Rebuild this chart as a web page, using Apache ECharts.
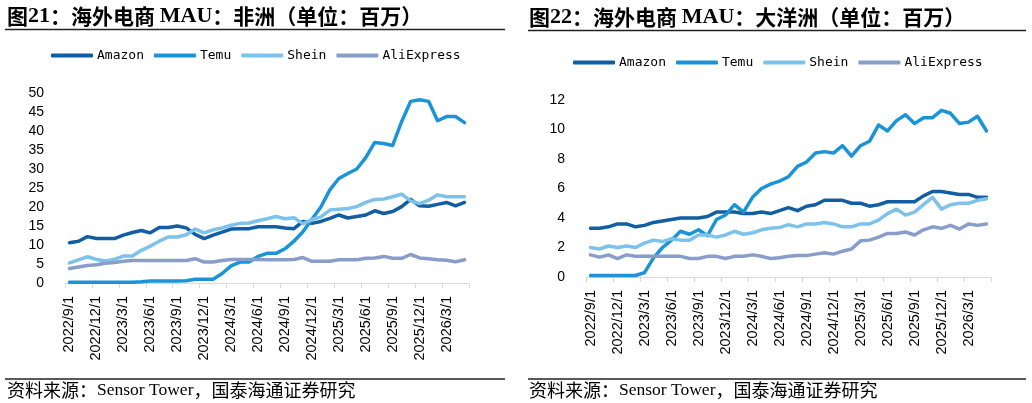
<!DOCTYPE html>
<html>
<head>
<meta charset="utf-8">
<script src="https://cdn.jsdelivr.net/npm/echarts@6/dist/echarts.min.js"></script>
<style>
html,body{margin:0;padding:0;background:#fff;}
#main{width:1032px;height:403px;}
</style>
</head>
<body>
<div id="main"></div>
<script>
var categories = ["2022/9/1","2022/10/1","2022/11/1","2022/12/1","2023/1/1","2023/2/1","2023/3/1","2023/4/1","2023/5/1","2023/6/1","2023/7/1","2023/8/1","2023/9/1","2023/10/1","2023/11/1","2023/12/1","2024/1/1","2024/2/1","2024/3/1","2024/4/1","2024/5/1","2024/6/1","2024/7/1","2024/8/1","2024/9/1","2024/10/1","2024/11/1","2024/12/1","2025/1/1","2025/2/1","2025/3/1","2025/4/1","2025/5/1","2025/6/1","2025/7/1","2025/8/1","2025/9/1","2025/10/1","2025/11/1","2025/12/1","2026/1/1","2026/2/1","2026/3/1","2026/4/1","2026/5/1"];

var seriesNames = ["Amazon","Temu","Shein","AliExpress"];

// Africa (left panel)
var africaAmazon = [10.6,11.0,12.2,11.7,11.7,11.7,12.6,13.3,13.8,13.2,14.6,14.6,15.0,14.5,12.8,11.7,12.6,13.4,14.2,14.3,14.3,14.8,14.8,14.8,14.5,14.3,16.2,15.7,16.2,17.0,17.9,17.1,17.5,17.9,19.0,18.3,18.8,20.1,22.0,20.3,20.2,20.7,21.2,20.3,21.2];
var africaTemu = [0.2,0.2,0.2,0.2,0.2,0.2,0.2,0.2,0.3,0.5,0.5,0.5,0.5,0.6,1.0,1.0,1.0,2.5,4.5,5.5,5.5,7.0,7.8,7.8,9.0,11.0,13.5,16.8,20.0,24.5,27.5,28.8,30.0,33.0,37.0,36.7,36.2,42.5,47.8,48.2,47.8,42.7,43.8,43.8,42.2];
var africaShein = [5.3,6.1,6.9,6.2,5.8,6.2,7.1,7.1,8.6,9.7,11.0,12.1,12.1,12.7,14.2,13.2,14.0,14.5,15.2,15.7,15.8,16.4,16.9,17.5,16.9,17.2,15.6,16.7,17.4,19.2,19.4,19.6,20.1,21.2,22.0,22.1,22.7,23.4,21.6,20.9,21.8,23.2,22.7,22.7,22.7];
var africaAli = [3.8,4.2,4.6,4.8,5.2,5.4,5.7,5.9,5.9,5.9,5.9,5.9,5.9,5.9,6.4,5.5,5.5,5.9,6.2,6.2,6.2,6.2,6.1,6.1,6.1,6.2,6.7,5.7,5.7,5.7,6.1,6.1,6.1,6.5,6.6,7.0,6.5,6.5,7.5,6.6,6.4,6.1,6.0,5.6,6.1];

// Oceania (right panel)
var oceaniaAmazon = [3.3,3.3,3.4,3.6,3.6,3.4,3.5,3.7,3.8,3.9,4.0,4.0,4.0,4.1,4.4,4.4,4.4,4.3,4.3,4.4,4.3,4.5,4.7,4.5,4.8,4.9,5.2,5.2,5.2,5.0,5.0,4.8,4.9,5.1,5.1,5.1,5.1,5.5,5.8,5.8,5.7,5.6,5.6,5.4,5.4];
var oceaniaTemu = [0.1,0.1,0.1,0.1,0.1,0.1,0.3,1.3,2.0,2.5,3.1,2.9,3.2,2.8,3.9,4.2,4.9,4.4,5.4,6.0,6.3,6.5,6.8,7.5,7.8,8.4,8.5,8.4,8.9,8.2,8.9,9.2,10.3,9.9,10.6,11.0,10.4,10.8,10.8,11.3,11.1,10.4,10.5,10.9,9.9];
var oceaniaShein = [2.0,1.9,2.1,2.0,2.1,2.0,2.3,2.5,2.4,2.6,2.5,2.5,2.85,2.85,2.7,2.85,3.1,2.9,3.0,3.2,3.3,3.35,3.55,3.4,3.6,3.6,3.7,3.6,3.4,3.4,3.6,3.6,3.85,4.3,4.6,4.2,4.4,4.9,5.4,4.6,4.9,5.0,5.0,5.2,5.3];
var oceaniaAli = [1.5,1.35,1.5,1.25,1.5,1.4,1.4,1.4,1.4,1.4,1.4,1.25,1.25,1.4,1.4,1.25,1.4,1.4,1.5,1.4,1.25,1.3,1.4,1.45,1.45,1.55,1.65,1.55,1.75,1.9,2.45,2.5,2.7,2.95,2.95,3.05,2.85,3.2,3.4,3.3,3.5,3.25,3.6,3.5,3.6];

var leftTitle = ["图", "21", "：海外电商 ", "MAU", "：非洲（单位：百万）"];
var rightTitle = ["图", "22", "：海外电商 ", "MAU", "：大洋洲（单位：百万）"];
var sourceText = ["资料来源：", "Sensor Tower", "，国泰海通证券研究"];

var colors = ["#135ea3", "#1a94d6", "#7cc2ea", "#889dc9"];

var chart = echarts.init(document.getElementById('main'), null, {renderer: 'canvas'});

function xAxisCfg(gi) {
  return {
    type: 'category', gridIndex: gi, data: categories, boundaryGap: true,
    axisLine: {show: true, lineStyle: {color: '#d9d9d9', width: 1}},
    axisTick: {show: true, interval: 2, length: 5, lineStyle: {color: '#d9d9d9'}},
    axisLabel: {interval: 2, rotate: 90, margin: 13, color: '#000', fontFamily: 'Liberation Sans', fontSize: 14.5}
  };
}
function yAxisCfg(gi, max, interval) {
  return {
    type: 'value', gridIndex: gi, min: 0, max: max, interval: interval,
    axisLine: {show: false}, axisTick: {show: false}, splitLine: {show: false},
    axisLabel: {margin: 21, color: '#000', fontFamily: 'Liberation Sans', fontSize: 14}
  };
}
function lineSeries(name, data, gi, ci) {
  return {
    name: name, type: 'line', xAxisIndex: gi, yAxisIndex: gi, data: data,
    showSymbol: false, symbol: 'none', smooth: false,
    lineStyle: {width: 3.5, color: colors[ci], cap: 'round', join: 'round'},
    itemStyle: {color: colors[ci]}, animation: false
  };
}
function titleRich(parts) {
  return '{c|' + parts[0] + '}{l|' + parts[1] + '}{c|' + parts[2] + '}{l|' + parts[3] + '}{c|' + parts[4] + '}';
}
var titleRichStyle = {
  c: {fontFamily: 'Noto Sans CJK SC', fontWeight: 'bold', fontSize: 21, fill: '#000'},
  l: {fontFamily: 'Liberation Serif', fontWeight: 'bold', fontSize: 22, fill: '#000'}
};
var srcRichStyle = {
  c: {fontFamily: 'Noto Sans CJK SC', fontSize: 18, fill: '#000'},
  l: {fontFamily: 'Liberation Serif', fontSize: 17.5, fill: '#000'}
};
var srcStr = '{c|' + sourceText[0] + '}{l|' + sourceText[1] + '}{c|' + sourceText[2] + '}';

var legendCommon = {
  data: seriesNames, icon: 'roundRect', itemWidth: 42, itemHeight: 4, itemGap: 10,
  textStyle: {fontFamily: 'DejaVu Sans Mono', fontSize: 13, color: '#000', padding: [0,0,0,-1]},
  selectedMode: false, padding: 0
};

var option = {
  backgroundColor: '#fff',
  animation: false,
  legend: [
    Object.assign({left: 51, top: 49}, legendCommon),
    Object.assign({left: 573, top: 56}, legendCommon)
  ],
  grid: [
    {left: 65, top: 93, width: 404, height: 190},
    {left: 586, top: 100, width: 405, height: 177}
  ],
  xAxis: [xAxisCfg(0), xAxisCfg(1)],
  yAxis: [yAxisCfg(0, 50, 5), yAxisCfg(1, 12, 2)],
  series: [
    lineSeries('Amazon', africaAmazon, 0, 0),
    lineSeries('Temu', africaTemu, 0, 1),
    lineSeries('Shein', africaShein, 0, 2),
    lineSeries('AliExpress', africaAli, 0, 3),
    lineSeries('Amazon', oceaniaAmazon, 1, 0),
    lineSeries('Temu', oceaniaTemu, 1, 1),
    lineSeries('Shein', oceaniaShein, 1, 2),
    lineSeries('AliExpress', oceaniaAli, 1, 3)
  ],
  graphic: [
    {type: 'text', x: 7, y: 16, style: {text: titleRich(leftTitle), rich: titleRichStyle, verticalAlign: 'middle'}},
    {type: 'text', x: 529, y: 17, style: {text: titleRich(rightTitle), rich: titleRichStyle, verticalAlign: 'middle'}},
    {type: 'line', shape: {x1: 5, y1: 29.5, x2: 505, y2: 29.5}, style: {stroke: '#222', lineWidth: 1.5}},
    {type: 'line', shape: {x1: 528, y1: 30.5, x2: 1026, y2: 30.5}, style: {stroke: '#222', lineWidth: 1.5}},
    {type: 'line', shape: {x1: 5, y1: 379, x2: 505, y2: 379}, style: {stroke: '#222', lineWidth: 1.5}},
    {type: 'line', shape: {x1: 528, y1: 379, x2: 1026, y2: 379}, style: {stroke: '#222', lineWidth: 1.5}},
    {type: 'text', x: 7, y: 390, style: {text: srcStr, rich: srcRichStyle, verticalAlign: 'middle'}},
    {type: 'text', x: 529, y: 390, style: {text: srcStr, rich: srcRichStyle, verticalAlign: 'middle'}}
  ]
};
chart.setOption(option);
</script>
</body>
</html>
